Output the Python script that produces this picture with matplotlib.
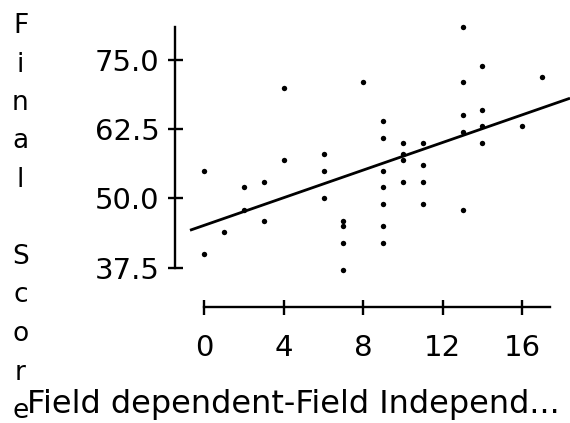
import numpy as np
import matplotlib
matplotlib.use("Agg")
import matplotlib.pyplot as plt

# Field dependence/independence score vs final score
field_score = [0, 0, 1, 2, 2, 3, 3, 4, 4, 6, 6, 6, 7, 7, 7, 7, 8,
               9, 9, 9, 9, 9, 9, 9, 10, 10, 10, 10, 11, 11, 11, 11,
               13, 13, 13, 13, 13, 14, 14, 14, 14, 16, 17]
final_score = [55, 40, 44, 52, 48, 53, 46, 57, 70, 58, 55, 50, 46, 45, 42, 37, 71,
               64, 61, 55, 52, 49, 45, 42, 60, 58, 57, 53, 60, 56, 53, 49,
               81, 71, 65, 62, 48, 74, 66, 63, 60, 63, 72]
x_ticks = [0, 4, 8, 12, 16]
y_ticks = [37.5, 50.0, 62.5, 75.0]
x_label = "Field dependent-Field Independ..."
y_label = "Final Score"

W, H = 570, 423
DPI = 100
fig = plt.figure(figsize=(W / DPI, H / DPI), dpi=DPI)

# axes placement in pixels
ax_left, ax_right = 190, 570
ax_top, ax_bottom = 20, 306.7
ax = fig.add_axes([ax_left / W, 1 - ax_bottom / H,
                   (ax_right - ax_left) / W, (ax_bottom - ax_top) / H])

x0_px, x_scale = 204.3, 19.87
y75_px, y_scale = 60.0, 5.539
ax.set_xlim((ax_left - x0_px) / x_scale, (ax_right - x0_px) / x_scale)
ax.set_ylim(75 - (ax_bottom - y75_px) / y_scale, 75 + (y75_px - ax_top) / y_scale)

ax.scatter(field_score, final_score, s=15, color="black", zorder=3, linewidths=0)

# least-squares fit line across the plot width
slope, intercept = np.polyfit(field_score, final_score, 1)
xl = np.array(ax.get_xlim())
ax.plot(xl, intercept + slope * xl, color="black", lw=2.0, clip_on=False,
        solid_capstyle="butt")

for side in ("top", "right"):
    ax.spines[side].set_visible(False)
ax.spines["left"].set_position(("outward", 11))
ax.spines["left"].set_bounds(37.5, max(final_score))
ax.spines["bottom"].set_bounds(0, 17.4)
for side in ("left", "bottom"):
    ax.spines[side].set_linewidth(1.7)

ax.set_xticks(x_ticks)
ax.set_yticks(y_ticks)
ax.set_yticklabels([f"{v:.1f}" for v in y_ticks])
ax.tick_params(direction="inout", length=10.8, width=1.7, labelsize=21,
               colors="black")
ax.tick_params(axis="y", pad=5.5)
ax.tick_params(axis="x", pad=14.5)

# vertical axis title, one character per line
for i, ch in enumerate(y_label):
    fig.text(20.5 / W, 1 - (33 + i * 38.5) / H, ch, ha="center", va="baseline",
             fontsize=19)
fig.text(27 / W, 1 - 413 / H, x_label, ha="left", va="baseline", fontsize=23)

fig.savefig("out.png", dpi=DPI)
